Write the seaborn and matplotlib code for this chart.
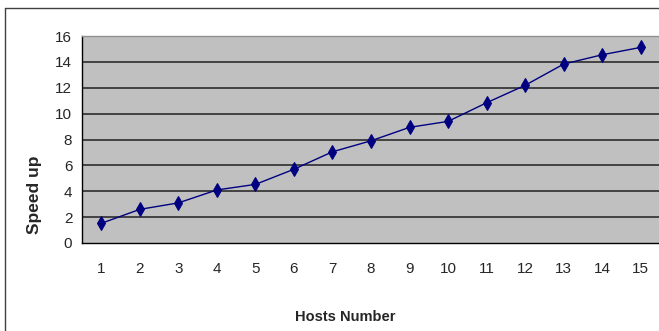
import matplotlib
matplotlib.use("Agg")
import matplotlib.pyplot as plt
from matplotlib.lines import Line2D
import pandas as pd
import seaborn as sns

# data
hosts = list(range(1, 16))
speedup = [1.52, 2.6, 3.1, 4.1, 4.53, 5.7, 7.05, 7.9, 8.94, 9.4, 10.84, 12.19, 13.83, 14.55, 15.12]
y_ticks = [0, 2, 4, 6, 8, 10, 12, 14, 16]

df = pd.DataFrame({"Hosts Number": hosts, "Speed up": speedup})

sns.set_style("white")
plt.rcParams["font.family"] = ["Liberation Sans Narrow", "Liberation Sans", "DejaVu Sans"]

W, H = 659, 331
fig = plt.figure(figsize=(W / 100, H / 100), dpi=100)
ax = fig.add_axes([82 / W, (H - 243) / H, 578 / W, 207 / H])
ax.set_facecolor("#c0c0c0")

sns.lineplot(data=df, x="Hosts Number", y="Speed up", ax=ax, color="#000080",
             marker="d", markersize=7.5, markeredgecolor="#000080", linewidth=1)

ax.set_xlim(0.5, 15.5)
ax.set_ylim(0, 16)
ax.set_yticks(y_ticks)
for v in y_ticks[1:]:
    ax.axhline(v, color="#202020", linewidth=1.1, zorder=0.5)

ax.set_xticks(hosts)
ax.set_xticks([h + 0.5 for h in [0] + hosts], minor=True)
ax.tick_params(axis="x", which="major", length=0, pad=14, labelsize=11)
ax.tick_params(axis="x", which="minor", length=5, width=1, direction="out", color="black")
ax.tick_params(axis="y", which="major", length=5, width=1, direction="out", color="black",
               labelsize=11, pad=2)

ax.set_xlabel("")
ax.set_ylabel("")
for s in ["left", "bottom"]:
    ax.spines[s].set_color("black")
    ax.spines[s].set_linewidth(1)
for s in ["top", "right"]:
    ax.spines[s].set_color("#909090")
    ax.spines[s].set_linewidth(1)

fig.text(35 / W, 1 - 195 / H, "Speed up", rotation=90, ha="center", va="center",
         fontsize=12.5, fontweight="bold", family=["Liberation Sans", "DejaVu Sans"])
fig.text(345 / W, 1 - 317 / H, "Hosts Number", ha="center", va="center",
         fontsize=10.5, fontweight="bold")

# outer chart frame
fig.add_artist(Line2D([5 / W, 1], [1 - 8 / H, 1 - 8 / H], color="#404040", linewidth=1,
                      transform=fig.transFigure))
fig.add_artist(Line2D([5 / W, 5 / W], [0, 1 - 8 / H], color="#404040", linewidth=1,
                      transform=fig.transFigure))

fig.savefig("out.png", dpi=100, facecolor="white")
